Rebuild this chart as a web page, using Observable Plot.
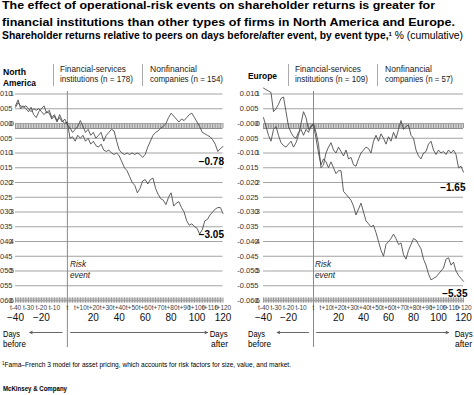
<!DOCTYPE html>
<html><head><meta charset="utf-8">
<script src="https://cdn.jsdelivr.net/npm/d3@7"></script>
<script src="https://cdn.jsdelivr.net/npm/@observablehq/plot@0.6"></script>
<style>
body{margin:0;background:#fff;font-family:"Liberation Sans",Arial,sans-serif;color:#000;}
#root{position:relative;width:474px;height:395px;overflow:hidden;background:#fff;}
.t{position:absolute;white-space:nowrap;line-height:1;display:inline-block;}
.sep{position:absolute;border-left:1px solid #aaa;width:0;}
.panel{position:absolute;top:86px;}
</style></head><body><div id="root"></div>
<script>
// ---- data ----
const days = [-40,-38,-36,-34,-32,-30,-28,-26,-24,-22,-20,-18,-16,-14,-12,-10,-8,-6,-4,-2,0,2,4,6,8,10,12,14,16,18,20,22,24,26,28,30,32,34,36,38,40,42,44,46,48,50,52,54,56,58,60,62,64,66,68,70,72,74,76,78,80,82,84,86,88,90,92,94,96,98,100,102,104,106,108,110,112,114,116,118,120];

const naFin = [0.0055,0.007,0.006,0.0055,0.006,0.005,0.004,0.005,0.0045,0.005,0.004,0.003,0.004,0.0035,0.0015,0.0025,0.0005,0.003,0.001,0.0,0.0005,
-0.005,-0.0045,-0.006,-0.004,-0.005,-0.004,-0.006,-0.005,-0.007,-0.006,
-0.0075,-0.008,-0.007,-0.009,-0.0095,-0.009,-0.01,-0.0105,-0.01,-0.011,
-0.013,-0.015,-0.016,-0.018,-0.02,-0.021,-0.0235,-0.022,-0.0195,-0.019,
-0.0205,-0.019,-0.0185,-0.022,-0.024,-0.0255,-0.026,-0.0275,-0.025,-0.0235,
-0.028,-0.027,-0.0265,-0.0285,-0.03,-0.033,-0.0345,-0.034,-0.035,-0.0355,
-0.0375,-0.036,-0.033,-0.0325,-0.031,-0.03,-0.029,-0.0285,-0.0285,-0.0305];

const naNon = [0.006,0.008,0.005,0.006,0.005,0.004,0.0055,0.003,0.002,0.004,0.005,0.006,0.0035,0.0045,0.002,0.003,0.001,0.002,0.0005,0.0015,-0.0005,
-0.0015,-0.003,-0.002,-0.001,0.001,-0.001,-0.003,-0.002,-0.004,-0.003,
-0.005,-0.004,-0.003,-0.006,-0.004,-0.003,-0.002,-0.0025,-0.006,-0.009,
-0.01,-0.0105,-0.01,-0.0105,-0.01,-0.0105,-0.01,-0.0105,-0.0115,-0.0105,
-0.008,-0.006,-0.004,-0.003,-0.0025,-0.0015,-0.001,0.0,0.002,0.0035,
0.0025,0.0015,0.0005,0.0015,0.001,0.002,0.003,0.0035,0.002,0.0005,
-0.001,-0.003,-0.0035,-0.004,-0.0045,-0.0055,-0.007,-0.0095,-0.0085,-0.0078];

const euFin = [0.012,0.0115,0.011,0.0105,0.004,0.005,0.0065,0.0085,0.009,0.004,-0.001,-0.003,-0.0045,-0.005,-0.003,-0.002,-0.004,-0.002,-0.003,-0.001,-0.0005,
-0.005,-0.01,-0.014,-0.012,-0.013,-0.015,-0.013,-0.015,-0.017,-0.016,
-0.016,-0.023,-0.024,-0.025,-0.026,-0.028,-0.031,-0.029,-0.027,-0.03,
-0.033,-0.034,-0.035,-0.0345,-0.037,-0.04,-0.043,-0.045,-0.041,-0.04,
-0.039,-0.0375,-0.039,-0.041,-0.0405,-0.0445,-0.046,-0.043,-0.041,-0.039,
-0.0395,-0.041,-0.0425,-0.046,-0.048,-0.051,-0.053,-0.0525,-0.052,-0.051,
-0.05,-0.049,-0.046,-0.0455,-0.048,-0.047,-0.05,-0.0515,-0.0525,-0.0535];

const euNon = [0.002,-0.001,-0.004,-0.006,-0.002,-0.001,-0.004,-0.0065,-0.0075,-0.008,-0.007,-0.006,-0.008,-0.0065,-0.004,0.0,0.004,0.002,-0.002,-0.001,0.0,
-0.003,-0.007,-0.015,-0.014,-0.01,-0.008,-0.0065,-0.009,-0.01,-0.008,
-0.0095,-0.011,-0.009,-0.012,-0.0115,-0.014,-0.0145,-0.012,-0.01,-0.009,
-0.008,-0.0085,-0.01,-0.006,-0.004,-0.006,-0.0035,-0.005,-0.007,-0.0045,
-0.006,-0.003,-0.005,-0.002,0.001,-0.002,-0.001,-0.0005,-0.004,-0.005,
-0.009,-0.011,-0.012,-0.01,-0.0095,-0.007,-0.006,-0.009,-0.0105,-0.009,
-0.01,-0.0095,-0.0105,-0.009,-0.01,-0.009,-0.0105,-0.015,-0.0145,-0.0165];

const yTicks = [0.01,0.005,0,-0.005,-0.01,-0.015,-0.02,-0.025,-0.03,-0.035,-0.04,-0.045,-0.05,-0.055,-0.06];
const bandValues = [0,-0.06];
const eventDay = [0];
const tTickDays = [-40,-30,-20,-10,0,10,20,30,40,50,60,70,80,90,100,110,120];
const xLabelDays = [-40,-20,20,40,60,80,100,120];
const naEndLabels = ["−0.78","−3.05"];
const euEndLabels = ["−1.65","−5.35"];

// ---- helpers ----
const root = document.getElementById("root");
function txt(html, o) {
  const s = document.createElement("span");
  s.className = "t";
  s.innerHTML = html;
  s.style.fontSize = o.size + "px";
  if (o.bold) s.style.fontWeight = "bold";
  if (o.italic) s.style.fontStyle = "italic";
  s.style.top = (o.base - 0.8465 * o.size) + "px";
  if (o.right != null) { s.style.right = (474 - o.right) + "px"; s.style.transformOrigin = "right center"; }
  else { s.style.left = o.x + "px"; s.style.transformOrigin = "left center"; }
  if (o.color) s.style.color = o.color;
  root.appendChild(s);
  if (o.w) { const w = s.getBoundingClientRect().width; s.style.transform = `scaleX(${o.w / w})`; }
  return s;
}
function sep(x) { const d = document.createElement("div"); d.className = "sep"; d.style.left = x + "px"; d.style.top = "64px"; d.style.height = "22px"; root.appendChild(d); }

function yLabel(v) { return v === 0 ? "-0.000" : (v < 0 ? "-" : "") + Math.abs(v).toFixed(3); }

function panel(fin, non, endLabels, xRange, labDx, endDx, endDy) {
  const finData = days.map((d, i) => ({day: d, v: fin[i]}));
  const nonData = days.map((d, i) => ({day: d, v: non[i]}));
  const x0 = days[0], x1 = days[days.length - 1];
  const yMin = yTicks[yTicks.length - 1];
  const depth = 0.0017;
  const stripes = bandValues.flatMap(b => days.map(d => ({day: d, b})));
  const whole = yTicks.filter(v => Math.abs(Math.round(v * 100) - v * 100) < 1e-9);
  const endNon = [{day: x1, v: non[non.length - 1], label: endLabels[0]}];
  const endFin = [{day: x1, v: fin[fin.length - 1], label: endLabels[1]}];
  return Plot.plot({
    width: 237, height: 264,
    style: {background: "transparent", overflow: "visible", fontFamily: "Liberation Sans, Arial, sans-serif"},
    x: {domain: [x0, x1], range: xRange, axis: null},
    y: {domain: [yTicks[0], yMin], range: [7.5, 214], axis: null},
    marks: [
      Plot.rect(bandValues, {x1: x0, x2: x1, y1: d => d + (d === 0 ? 0 : depth / 2), y2: d => d - (d === 0 ? depth : depth / 2), fill: "#d2d2d2"}),
      Plot.ruleX(stripes, {x: "day", y1: d => d.b + (d.b === 0 ? 0 : depth / 2), y2: d => d.b - (d.b === 0 ? depth : depth / 2), stroke: "#8c8c8c", strokeWidth: 0.9}),
      Plot.ruleY(yTicks, {x1: x0, x2: x1, stroke: "#a3a3a3", strokeWidth: 1}),
      Plot.ruleY([0], {x1: x0, x2: x1, y: d => d - depth, stroke: "#8c8c8c", strokeWidth: 1}),
      Plot.ruleX(eventDay, {y1: yTicks[0], y2: yMin, stroke: "#8a8a8a", strokeWidth: 1, insetTop: -2.5, insetBottom: -47}),
      Plot.line(nonData, {x: "day", y: "v", stroke: "#444", strokeWidth: 0.85}),
      Plot.line(finData, {x: "day", y: "v", stroke: "#444", strokeWidth: 0.85}),
      Plot.text(yTicks, {x: x0, y: d => d, text: yLabel, textAnchor: "end", dx: labDx, fontSize: 7.5, fill: "#333"}),
      Plot.text(whole, {x: x0, y: d => d, text: d => String(Math.round(Math.abs(d) * 100)), textAnchor: "end", dx: labDx + 1.5, fontSize: 7.5, fill: "#333"}),
      Plot.text(tTickDays, {x: d => d, y: yMin, text: d => d === 0 ? "t" : (d < 0 ? "t-" + (-d) : "t+" + d), dy: 7.5, fontSize: 6.5, fill: "#444"}),
      Plot.text(xLabelDays, {x: d => d, y: yMin, text: d => d < 0 ? "−" + (-d) : String(d), dy: 17.5, fontSize: 10, fill: "#111"}),
      Plot.arrow([{a: -4, b: -29}], {x1: "a", x2: "b", y1: yMin, y2: yMin, dy: 32, stroke: "#555", strokeWidth: 0.9, headLength: 4.5, headAngle: 50}),
      Plot.arrow([{a: 2.5, b: 108}], {x1: "a", x2: "b", y1: yMin, y2: yMin, dy: 32, stroke: "#555", strokeWidth: 0.9, headLength: 4.5, headAngle: 50}),
      Plot.text(endNon, {x: "day", y: "v", text: "label", dx: endDx[0], dy: endDy[0], textAnchor: "end", fontWeight: "bold", fontSize: 10, fill: "#000"}),
      Plot.text(endFin, {x: "day", y: "v", text: "label", dx: endDx[1], dy: endDy[1], textAnchor: "end", fontWeight: "bold", fontSize: 10, fill: "#000"})
    ]
  });
}

function addPanel(fin, non, endLabels, left, xRange, labDx, endDx, endDy) {
  const wrap = document.createElement("div");
  wrap.className = "panel";
  wrap.style.left = left + "px";
  wrap.appendChild(panel(fin, non, endLabels, xRange, labDx, endDx, endDy));
  root.appendChild(wrap);
}

// ---- titles ----
txt("The effect of operational-risk events on shareholder returns is greater for", {x: 2, base: 10.2, size: 11.8, bold: true, w: 433});
txt("financial institutions than other types of firms in North America and Europe.", {x: 2, base: 26.5, size: 11.8, bold: true, w: 453});
txt('Shareholder returns relative to peers on days before/after event, by event type,<span style="font-size:6px;position:relative;top:-3px">1</span> <span style="font-weight:normal">% (cumulative)</span>', {x: 2, base: 39.5, size: 10.3, bold: true, w: 461});

// ---- panel headers ----
txt("North", {x: 3, base: 75, size: 9.5, bold: true, w: 23});
txt("America", {x: 3, base: 86, size: 9.5, bold: true, w: 33});
sep(53); sep(142);
txt("Financial-services", {x: 60, base: 73, size: 9, w: 66, color: "#222"});
txt("institutions (n = 178)", {x: 60, base: 83, size: 9, w: 73, color: "#222"});
txt("Nonfinancial", {x: 150, base: 73, size: 9, w: 47, color: "#222"});
txt("companies (n = 154)", {x: 150, base: 83, size: 9, w: 73, color: "#222"});

txt("Europe", {x: 248, base: 79, size: 9.5, bold: true, w: 29});
sep(288); sep(377);
txt("Financial-services", {x: 295, base: 73, size: 9, w: 66, color: "#222"});
txt("institutions (n = 109)", {x: 295, base: 83, size: 9, w: 73, color: "#222"});
txt("Nonfinancial", {x: 385, base: 73, size: 9, w: 47, color: "#222"});
txt("companies (n = 57)", {x: 385, base: 83, size: 9, w: 68, color: "#222"});

// ---- panels ----
addPanel(naFin, naNon, naEndLabels, 0, [15, 222.5], -3, [1, 1], [15.6, 21.8]);
addPanel(euFin, euNon, euEndLabels, 237, [26, 226], -5, [2, 4], [16, 12]);

// ---- annotations ----
txt("Risk", {x: 70, base: 268, size: 9, italic: true, w: 16, color: "#222"});
txt("event", {x: 70, base: 279, size: 9, italic: true, w: 20, color: "#222"});
txt("Risk", {x: 315, base: 268, size: 9, italic: true, w: 16, color: "#222"});
txt("event", {x: 315, base: 279, size: 9, italic: true, w: 20, color: "#222"});

txt("Days", {x: 3, base: 337, size: 9.5, w: 17});
txt("before", {x: 3, base: 347, size: 9.5, w: 23});
txt("Days", {right: 228, base: 337, size: 9.5, w: 18});
txt("after", {right: 228, base: 347, size: 9.5, w: 17});
txt("Days", {x: 248, base: 337, size: 9.5, w: 17});
txt("before", {x: 248, base: 347, size: 9.5, w: 23});
txt("Days", {right: 473, base: 337, size: 9.5, w: 18});
txt("after", {right: 472, base: 347, size: 9.5, w: 17});

// ---- footnote ----
txt('<span style="font-size:4.5px;position:relative;top:-2px">1</span>Fama–French 3 model for asset pricing, which accounts for risk factors for size, value, and market.', {x: 2, base: 367.3, size: 6.6, w: 289});
txt("McKinsey &amp; Company", {x: 3, base: 390.5, size: 7, bold: true, w: 64});
</script>
</body></html>
